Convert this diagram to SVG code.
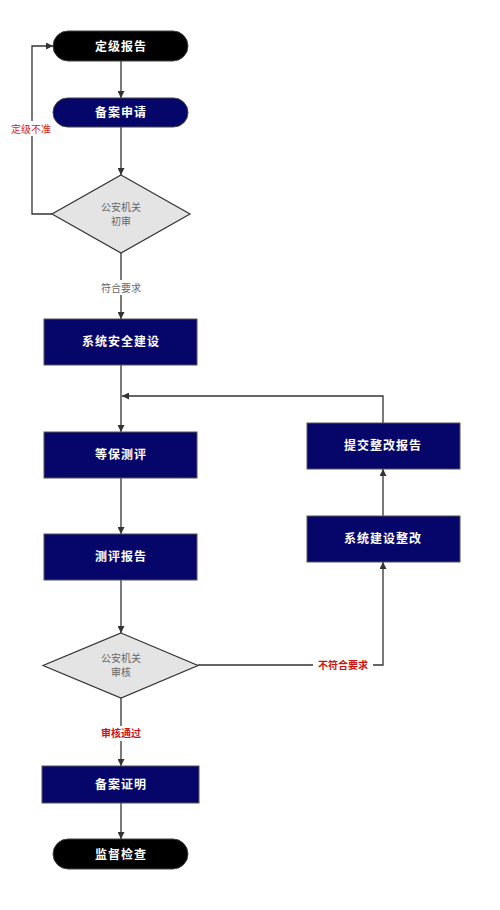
<svg xmlns="http://www.w3.org/2000/svg" width="500" height="910" viewBox="0 0 500 910">
<style>
.term{fill:#000;stroke:#444;stroke-width:1}
.proc{fill:#06066a;stroke:#555;stroke-width:1}
.dec{fill:#e4e4e4;stroke:#333;stroke-width:1.2}
.nt{font-family:"Noto Sans CJK SC","Liberation Sans",sans-serif;font-size:12px;font-weight:bold;fill:#fff;text-anchor:middle;letter-spacing:1px}
.dt{font-family:"Noto Sans CJK SC","Liberation Sans",sans-serif;font-size:10px;fill:#666;text-anchor:middle}
.lt{font-family:"Noto Sans CJK SC","Liberation Sans",sans-serif;font-size:10px;text-anchor:middle}
.red{fill:#cc1111;font-weight:bold}
.gray{fill:#666}
.edge{fill:none;stroke:#333;stroke-width:1.3}
</style>
<defs>
<marker id="ah" viewBox="0 0 10 10" refX="10" refY="5" markerWidth="7" markerHeight="7" orient="auto" markerUnits="userSpaceOnUse">
<path d="M0,0 L10,5 L0,10 z" fill="#333"/>
</marker>
</defs>
<g id="connectors">
<path class="edge" d="M121,61 V98" marker-end="url(#ah)"/>
<path class="edge" d="M121,127 V175" marker-end="url(#ah)"/>
<path class="edge" d="M52,214 H32 V46 H53" marker-end="url(#ah)"/>
<path class="edge" d="M121,253 V319" marker-end="url(#ah)"/>
<path class="edge" d="M121,365 V432" marker-end="url(#ah)"/>
<path class="edge" d="M383,423 V396 H122" marker-end="url(#ah)"/>
<path class="edge" d="M121,478 V534" marker-end="url(#ah)"/>
<path class="edge" d="M121,580 V633" marker-end="url(#ah)"/>
<path class="edge" d="M198,665 H383 V562" marker-end="url(#ah)"/>
<path class="edge" d="M383,516 V469" marker-end="url(#ah)"/>
<path class="edge" d="M121,698 V766" marker-end="url(#ah)"/>
<path class="edge" d="M121,803 V839" marker-end="url(#ah)"/>
<rect x="8" y="121" width="46" height="15" fill="#fff"/>
<text class="lt" x="31" y="132.5" style="fill:#d42020">定级不准</text>
<rect x="96" y="280" width="50" height="15" fill="#fff"/>
<text class="lt gray" x="121" y="291.5">符合要求</text>
<rect x="313" y="658" width="60" height="15" fill="#fff"/>
<text class="lt red" x="343" y="669">不符合要求</text>
<rect x="96" y="726" width="50" height="15" fill="#fff"/>
<text class="lt red" x="121" y="737">审核通过</text>
</g>
<g id="n1"><rect class="term" x="53" y="31" width="135" height="30" rx="15"/><text class="nt" x="121" y="50.5">定级报告</text></g>
<g id="n2"><rect class="term" x="53" y="98" width="135" height="29" rx="14.5" style="fill:#06066a"/><text class="nt" x="121" y="117">备案申请</text></g>
<g id="n3"><polygon class="dec" points="121,175 190,214 121,253 52,214"/><text class="dt" x="121" y="211">公安机关</text><text class="dt" x="121" y="225">初审</text></g>
<g id="n4"><rect class="proc" x="44" y="319" width="153" height="46"/><text class="nt" x="121" y="346">系统安全建设</text></g>
<g id="n5"><rect class="proc" x="44" y="432" width="153" height="46"/><text class="nt" x="121" y="459">等保测评</text></g>
<g id="n6"><rect class="proc" x="44" y="534" width="153" height="46"/><text class="nt" x="121" y="561">测评报告</text></g>
<g id="n7"><polygon class="dec" points="121,633 198,665.5 121,698 43,665.5"/><text class="dt" x="121" y="662">公安机关</text><text class="dt" x="121" y="676">审核</text></g>
<g id="n8"><rect class="proc" x="307" y="423" width="153" height="46"/><text class="nt" x="383" y="450">提交整改报告</text></g>
<g id="n9"><rect class="proc" x="307" y="516" width="153" height="46"/><text class="nt" x="383" y="543">系统建设整改</text></g>
<g id="n10"><rect class="proc" x="42" y="766" width="157" height="37"/><text class="nt" x="121" y="788.5">备案证明</text></g>
<g id="n11"><rect class="term" x="53" y="839" width="135" height="30" rx="15"/><text class="nt" x="121" y="858.5">监督检查</text></g>
</svg>
